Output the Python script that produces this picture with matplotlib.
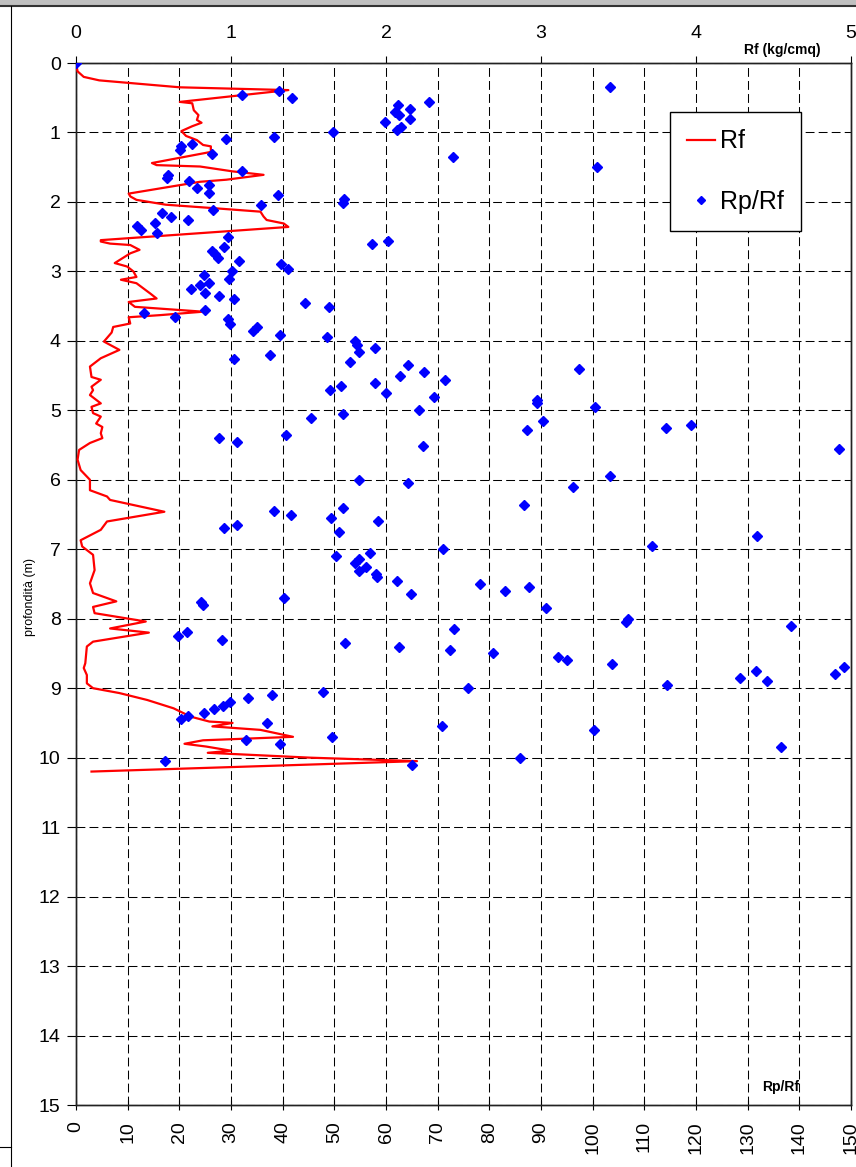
import matplotlib.pyplot as plt
from matplotlib.lines import Line2D
from matplotlib.patches import Rectangle
import numpy as np

plt.rcParams['font.family'] = ['Liberation Sans', 'DejaVu Sans']

# Rf profile (kg/cmq) against depth (m)
rf_depth = [0.00, 0.12, 0.20, 0.25, 0.35, 0.39, 0.56, 0.58, 0.68, 0.75, 0.82, 0.86, 0.91, 0.98,
            1.05, 1.11, 1.18, 1.20, 1.28, 1.44, 1.47, 1.49, 1.56, 1.61, 1.68, 1.71, 1.88, 1.92,
            1.97, 2.04, 2.09, 2.14, 2.21, 2.26, 2.31, 2.36, 2.55, 2.57, 2.60, 2.62, 2.69, 2.74,
            2.88, 2.93, 3.00, 3.08, 3.12, 3.17, 3.32, 3.39, 3.44, 3.51, 3.58, 3.63, 3.66, 3.75,
            3.80, 3.88, 4.01, 4.13, 4.25, 4.37, 4.52, 4.56, 4.66, 4.71, 4.78, 4.90, 4.95, 5.04,
            5.09, 5.19, 5.24, 5.33, 5.40, 5.47, 5.57, 5.71, 5.86, 6.00, 6.15, 6.24, 6.29, 6.46,
            6.60, 6.72, 6.87, 6.96, 7.08, 7.30, 7.49, 7.63, 7.75, 7.83, 7.92, 8.04, 8.14, 8.20,
            8.33, 8.40, 8.64, 8.71, 8.81, 8.93, 9.00, 9.07, 9.17, 9.29, 9.41, 9.48, 9.50, 9.55,
            9.60, 9.70, 9.75, 9.80, 9.84, 9.90, 9.93, 10.00, 10.05, 10.20]
rf_value = [0.00, 0.01, 0.05, 0.15, 0.67, 1.37, 0.67, 0.75, 0.76, 0.79, 0.78, 0.81, 0.75, 0.68,
            0.71, 0.78, 0.82, 0.87, 0.87, 0.49, 0.52, 0.80, 1.01, 1.21, 0.97, 0.80, 0.34, 0.35,
            0.39, 0.58, 0.89, 1.19, 1.21, 1.23, 1.34, 1.37, 0.16, 0.16, 0.22, 0.35, 0.41, 0.35,
            0.25, 0.33, 0.37, 0.39, 0.29, 0.39, 0.48, 0.52, 0.34, 0.38, 0.82, 0.54, 0.34, 0.35,
            0.24, 0.23, 0.18, 0.28, 0.16, 0.09, 0.10, 0.16, 0.10, 0.11, 0.09, 0.16, 0.10, 0.11,
            0.16, 0.13, 0.17, 0.16, 0.17, 0.09, 0.02, 0.01, 0.03, 0.09, 0.09, 0.20, 0.22, 0.57,
            0.20, 0.16, 0.03, 0.04, 0.11, 0.12, 0.09, 0.11, 0.26, 0.11, 0.12, 0.45, 0.22, 0.47,
            0.11, 0.07, 0.06, 0.05, 0.07, 0.07, 0.11, 0.28, 0.46, 0.63, 0.74, 0.86, 1.01, 0.88,
            1.19, 1.40, 0.82, 0.70, 0.84, 1.00, 0.85, 1.51, 2.20, 0.10]

# Rp/Rf ratio against depth (m)
ratio_depth = [0.00, 0.35, 0.40, 0.46, 0.50, 0.56, 0.60, 0.66, 0.71, 0.75, 0.81, 0.85, 0.92, 0.96,
               1.00, 1.06, 1.10, 1.16, 1.20, 1.25, 1.31, 1.35, 1.50, 1.55, 1.61, 1.66, 1.70, 1.75,
               1.80, 1.87, 1.90, 1.96, 2.01, 2.05, 2.11, 2.16, 2.21, 2.26, 2.30, 2.35, 2.40, 2.45,
               2.50, 2.56, 2.61, 2.65, 2.70, 2.75, 2.81, 2.85, 2.90, 2.96, 2.99, 3.05, 3.11, 3.16,
               3.20, 3.25, 3.31, 3.35, 3.40, 3.45, 3.51, 3.55, 3.60, 3.65, 3.69, 3.76, 3.80, 3.86,
               3.91, 3.95, 4.00, 4.06, 4.10, 4.16, 4.20, 4.26, 4.30, 4.35, 4.40, 4.45, 4.50, 4.56,
               4.60, 4.65, 4.71, 4.75, 4.81, 4.85, 4.90, 4.95, 5.00, 5.05, 5.11, 5.15, 5.21, 5.25,
               5.28, 5.35, 5.40, 5.46, 5.51, 5.55, 5.95, 6.00, 6.05, 6.10, 6.36, 6.40, 6.45, 6.50,
               6.55, 6.60, 6.65, 6.70, 6.75, 6.81, 6.95, 7.00, 7.05, 7.10, 7.14, 7.20, 7.25, 7.31,
               7.35, 7.40, 7.45, 7.50, 7.55, 7.60, 7.65, 7.70, 7.76, 7.80, 7.85, 8.00, 8.05, 8.10,
               8.15, 8.19, 8.25, 8.30, 8.35, 8.40, 8.45, 8.50, 8.55, 8.60, 8.65, 8.70, 8.75, 8.80,
               8.85, 8.90, 8.96, 9.00, 9.05, 9.10, 9.14, 9.20, 9.25, 9.30, 9.35, 9.40, 9.45, 9.50,
               9.55, 9.60, 9.70, 9.75, 9.80, 9.85, 10.00, 10.05, 10.10]
ratio_value = [0.0, 103.3, 39.3, 32.2, 41.9, 68.4, 62.4, 64.6, 61.7, 62.5, 64.7, 59.8, 63.0, 62.1,
               49.8, 38.4, 29.0, 22.5, 20.3, 20.1, 26.4, 72.9, 100.8, 32.1, 17.9, 17.7, 21.9, 25.7,
               23.5, 25.7, 39.0, 51.9, 51.7, 35.9, 26.5, 16.6, 18.4, 21.7, 15.3, 11.9, 12.6, 15.7,
               29.5, 60.3, 57.3, 28.6, 26.3, 27.0, 27.5, 31.5, 39.6, 41.0, 30.1, 24.8, 29.6, 25.7,
               24.0, 22.2, 25.0, 27.7, 30.6, 44.3, 49.0, 24.9, 13.2, 19.2, 29.5, 29.9, 35.1, 34.2,
               39.4, 48.5, 54.0, 54.3, 57.8, 54.7, 37.6, 30.6, 53.0, 64.2, 97.3, 67.3, 62.8, 71.5,
               57.9, 51.3, 49.2, 60.0, 69.3, 89.2, 89.3, 100.4, 66.3, 51.7, 45.5, 90.3, 119.0, 114.1,
               87.2, 40.6, 27.7, 31.1, 67.2, 147.6, 103.3, 54.7, 64.2, 96.1, 86.7, 51.7, 38.3, 41.6,
               49.4, 58.5, 31.1, 28.6, 51.0, 131.8, 111.4, 71.0, 56.9, 50.4, 54.8, 54.0, 56.1, 54.8,
               58.1, 58.3, 62.2, 78.1, 87.6, 83.0, 64.9, 40.3, 24.1, 24.6, 91.0, 106.9, 106.5, 138.4,
               73.2, 21.5, 19.7, 28.3, 52.1, 62.6, 72.4, 80.7, 93.3, 95.0, 103.8, 148.6, 131.7, 147.0,
               128.5, 133.8, 114.3, 75.8, 47.9, 38.0, 33.3, 29.9, 28.4, 26.8, 24.7, 21.7, 20.3, 37.0,
               70.8, 100.3, 49.6, 33.0, 39.5, 136.4, 85.9, 17.3, 65.0]

depth_ticks = np.arange(0, 16, 1)
ratio_ticks = np.arange(0, 151, 10)
rf_ticks = np.arange(0, 6, 1)

W, H = 856, 1167
fig = plt.figure(figsize=(W / 100, H / 100), dpi=100)
ax = fig.add_axes([76 / W, 1 - 1105 / H, 775 / W, 1042 / H])
ax2 = ax.twiny()

dash = (0, (8.5, 4))
ax.set_xlim(0, 150)
ax.set_ylim(15, 0)
ax.set_xticks(ratio_ticks)
ax.set_yticks(depth_ticks)
ax.grid(True, color='black', linewidth=0.75, linestyle=dash)
ax.tick_params(axis='y', direction='out', length=6.5, width=0.8, labelsize=14, pad=4.5)
ax.tick_params(axis='x', direction='inout', length=7, width=0.8, labelsize=14,
               labelrotation=90, pad=8)

ax2.set_xlim(0, 5)
ax2.set_xticks(rf_ticks)
ax2.tick_params(axis='x', direction='out', length=5, width=0.8, labelsize=14, pad=10)

for a in (ax, ax2):
    for s in a.spines.values():
        s.set_linewidth(1.0)
        s.set_color('#222222')

ax2.plot(rf_value, rf_depth, color='red', linewidth=1.6, label='Rf', zorder=3)
ax2.plot(ratio_value, ratio_depth, linestyle='none', marker='D', markersize=5.3,
         color='blue', transform=ax.transData, label='Rp/Rf', zorder=4)

leg = ax2.legend(loc='upper left', bbox_to_anchor=(0.766, 0.953), fontsize=18,
                 frameon=True, fancybox=False, edgecolor='black', framealpha=1,
                 borderpad=0.7, labelspacing=1.45, handlelength=1.1, handletextpad=0.2,
                 markerscale=0.75, borderaxespad=0)
leg.get_frame().set_linewidth(1.0)

fig.text(782 / W, 1 - 50 / H, 'Rf (kg/cmq)', fontsize=10, fontweight='bold',
         ha='center', va='center')
fig.text(781 / W, 1 - 1087 / H, 'Rp/Rf', fontsize=10, fontweight='bold',
         ha='center', va='center')
fig.text(30 / W, 1 - 597 / H, 'profondità (m)', fontsize=9, rotation=90,
         ha='center', va='center')

# sheet frame around the chart
fig.add_artist(Rectangle((0, 1 - 5 / H), 1, 5 / H, transform=fig.transFigure,
                         facecolor='#c0c0c0', edgecolor='none'))
fig.add_artist(Line2D([0, 1], [1 - 5.5 / H, 1 - 5.5 / H], transform=fig.transFigure,
                      color='#333333', linewidth=1.5))
fig.add_artist(Line2D([10.5 / W, 10.5 / W], [0, 1 - 6 / H], transform=fig.transFigure,
                      color='black', linewidth=0.8))
fig.add_artist(Line2D([0, 10.5 / W], [1 - 1147 / H, 1 - 1147 / H], transform=fig.transFigure,
                      color='black', linewidth=0.8))

fig.savefig('out.png', dpi=100)
